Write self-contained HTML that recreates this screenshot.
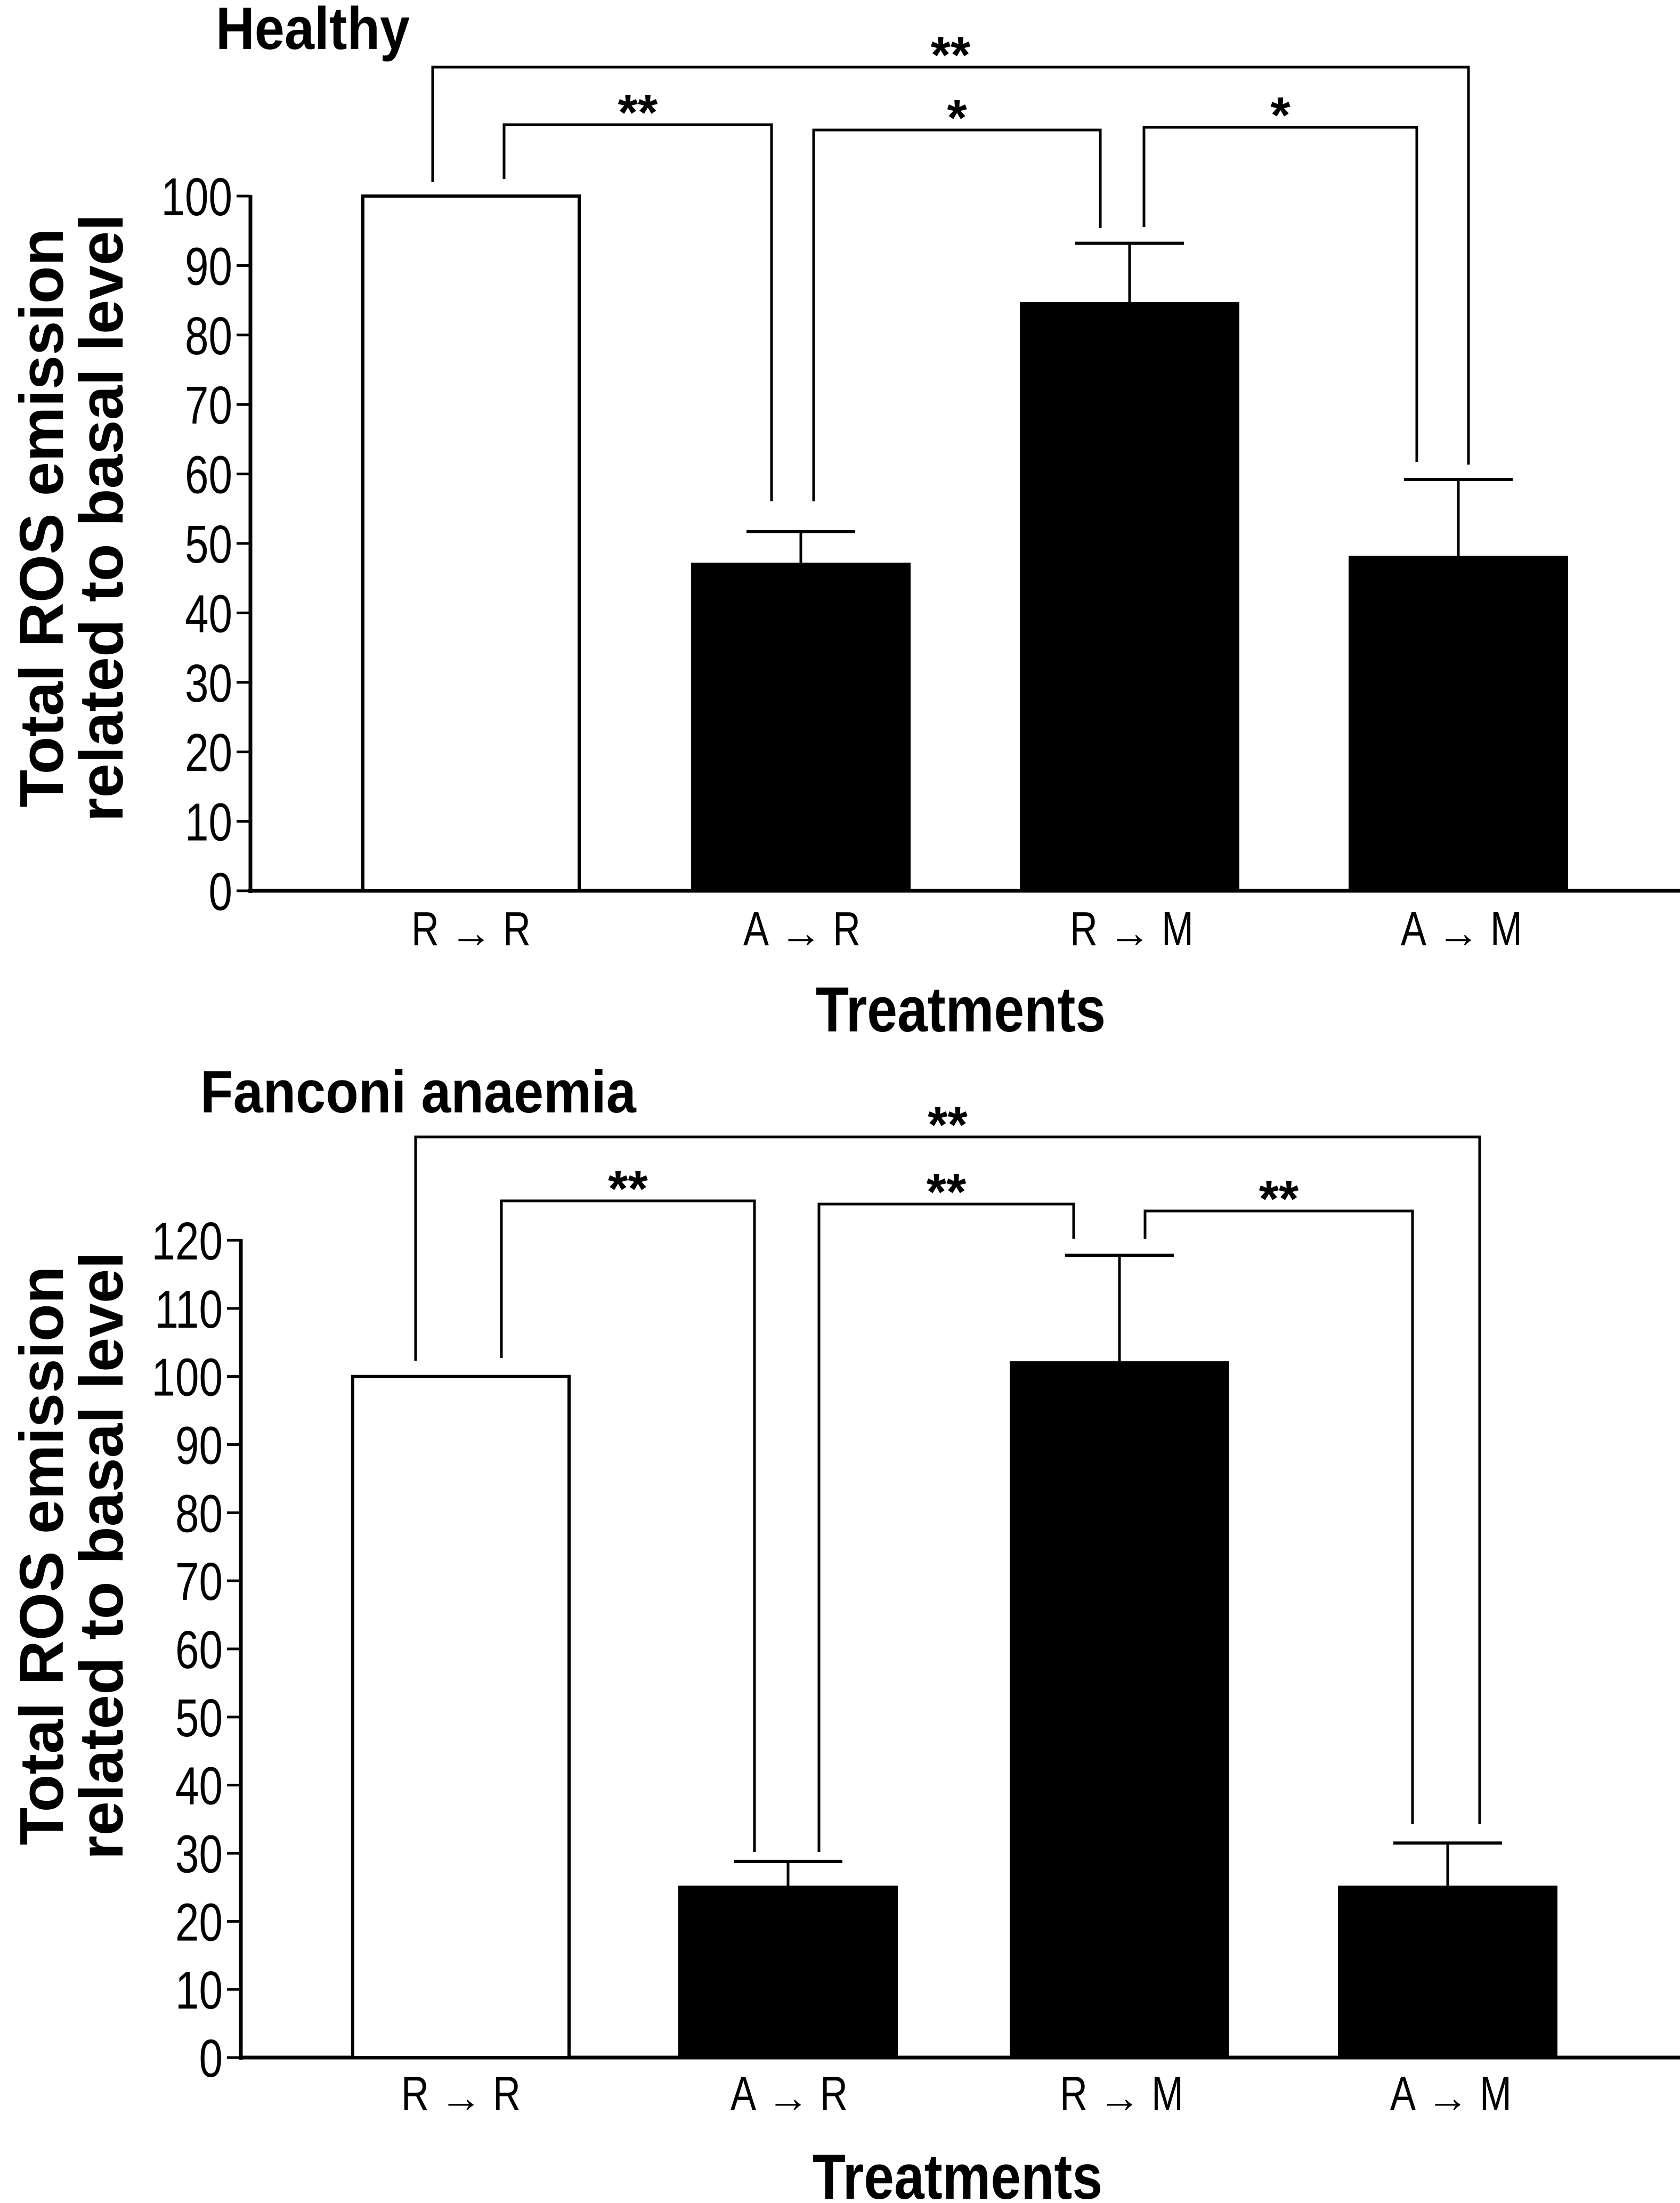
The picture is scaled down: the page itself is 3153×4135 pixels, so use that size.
<!DOCTYPE html>
<html><head><meta charset="utf-8"><style>
html,body{margin:0;padding:0;background:#fff;}
svg{display:block;}
.tick{font-family:"Liberation Sans",sans-serif;font-size:100px;}
.cat{font-family:"Liberation Sans",sans-serif;font-size:90px;}
.ttl{font-family:"Liberation Sans",sans-serif;font-size:100px;font-weight:bold;}
.yt{font-family:"Liberation Sans",sans-serif;font-size:116px;font-weight:bold;}
.sig{font-family:"Liberation Sans",sans-serif;font-size:96px;font-weight:bold;}
</style></head><body>
<svg id="chart" width="3153" height="4135" viewBox="0 0 3153 4135" xmlns="http://www.w3.org/2000/svg"></svg>
<script>
const categories = ["R \u2192 R","A \u2192 R","R \u2192 M","A \u2192 M"];
const healthyValues = [100, 47, 84.5, 48];
const healthyErrors = [null, 51.7, 93.2, 59.2];
const fanconiValues = [100, 25, 102, 25];
const fanconiErrors = [null, 28.8, 117.8, 31.5];
const healthyTicks = [0,10,20,30,40,50,60,70,80,90,100];
const fanconiTicks = [0,10,20,30,40,50,60,70,80,90,100,110,120];

const NS="http://www.w3.org/2000/svg";
const svg=document.getElementById('chart');
function mk(tag,attrs,parent,text){const e=document.createElementNS(NS,tag);for(const k in attrs)e.setAttribute(k,attrs[k]);if(text!==undefined)e.textContent=text;(parent||svg).appendChild(e);return e;}
function ctext(x,y,sx,anchor,cls,parent,str,extra){
  const a={transform:`translate(${x},${y}) scale(${sx},1)`,'text-anchor':anchor,class:cls,x:0,y:0};
  if(extra)Object.assign(a,extra);
  return mk('text',a,parent,str);
}

function drawPanel(cfg){
  const g=mk('g',{});
  
  
  const y=v=>cfg.y0-v*(cfg.y0-cfg.yTop)/cfg.maxV;
  const bw=412;
  const t=ctext(cfg.titleX,cfg.titleY,0.9,'start','ttl',g,cfg.title,{style:'font-size:112px'});
  
  
  const yt=mk('g',{transform:`translate(${cfg.ytX},${cfg.ytY}) rotate(-90)`},g);
  
  
  mk('text',{x:0,y:0,'text-anchor':'middle',class:'yt'},yt,'Total ROS emission');
  mk('text',{x:0,y:112,'text-anchor':'middle',class:'yt'},yt,'related to basal level');
  const ya=mk('line',{x1:cfg.ax,y1:y(cfg.maxV)-2,x2:cfg.ax,y2:cfg.y0+4,stroke:'#000','stroke-width':7},g);
  
  
  const xa=mk('line',{x1:cfg.ax-4,y1:cfg.y0,x2:3153,y2:cfg.y0,stroke:'#000','stroke-width':7},g);
  
  
  cfg.ticks.forEach(v=>{
    mk('line',{x1:cfg.ax-26,y1:y(v),x2:cfg.ax,y2:y(v),stroke:'#000','stroke-width':5},g);
    const tl=ctext(cfg.ax-34,y(v)+36,0.8,'end','tick',g,String(v));
    
    
  });
  categories.forEach((c,i)=>{
    const cx=cfg.centers[i];
    const v=cfg.values[i];
    const e=cfg.errors[i];
    if(e!==null){
      mk('line',{x1:cx,y1:y(e),x2:cx,y2:y(v),stroke:'#000','stroke-width':5},g);
      mk('line',{x1:cx-102,y1:y(e),x2:cx+102,y2:y(e),stroke:'#000','stroke-width':6},g);
    }
    const b=mk('rect',{x:cx-bw/2+3,y:y(v),width:bw-6,height:cfg.y0-y(v),fill:i===0?'#fff':'#000',stroke:'#000','stroke-width':6},g);
    
    
    const parts=c.split(' \u2192 ');
    const cg=mk('g',{},g);
    
    
    ctext(cx-60,cfg.catY,0.8,'end','cat',cg,parts[0]);
    mk('text',{x:cx,y:cfg.catY+4,'text-anchor':'middle',class:'cat',style:'font-size:80px'},cg,'\u2192');
    ctext(cx+60,cfg.catY,0.8,'start','cat',cg,parts[1]);
  });
  const xt=ctext(cfg.xtX,cfg.xtY,0.85,'middle','ttl',g,'Treatments',{style:'font-size:120px'});
  
  
  cfg.brackets.forEach(b=>{
    const bg=mk('g',{},g);
    
    
    mk('polyline',{points:`${b.x1},${b.l} ${b.x1},${b.y} ${b.x2},${b.y} ${b.x2},${b.r}`,fill:'none',stroke:'#000','stroke-width':5},bg);
    mk('text',{x:(b.x1+b.x2)/2,y:b.y+10,'text-anchor':'middle',class:'sig'},bg,b.s);
  });
}

drawPanel({name:'healthy-panel',title:'Healthy',titleX:405,titleY:92,ytX:118,ytY:972,
  ax:470,y0:1672,yTop:368,maxV:100,ticks:healthyTicks,values:healthyValues,errors:healthyErrors,
  centers:[884,1503,2120,2737],catY:1774,xtX:1803,xtY:1936,
  brackets:[{x1:812,x2:2756,y:126,l:342,r:872,s:'**'},
            {x1:946,x2:1448,y:234,l:336,r:941,s:'**'},
            {x1:1527,x2:2065,y:244,l:941,r:428,s:'*'},
            {x1:2147,x2:2659,y:239,l:426,r:867,s:'*'}]});

drawPanel({name:'fanconi-panel',title:'Fanconi anaemia',titleX:376,titleY:2088,ytX:118,ytY:2920,
  ax:452,y0:3862,yTop:2328,maxV:120,ticks:fanconiTicks,values:fanconiValues,errors:fanconiErrors,
  centers:[865,1479,2101,2717],catY:3960,xtX:1797,xtY:4127,
  brackets:[{x1:780,x2:2777,y:2134,l:2554,r:3424,s:'**'},
            {x1:941,x2:1416,y:2254,l:2549,r:3476,s:'**'},
            {x1:1537,x2:2015,y:2260,l:3476,r:2325,s:'**'},
            {x1:2149,x2:2651,y:2273,l:2325,r:3424,s:'**'}]});
</script>
</body></html>
